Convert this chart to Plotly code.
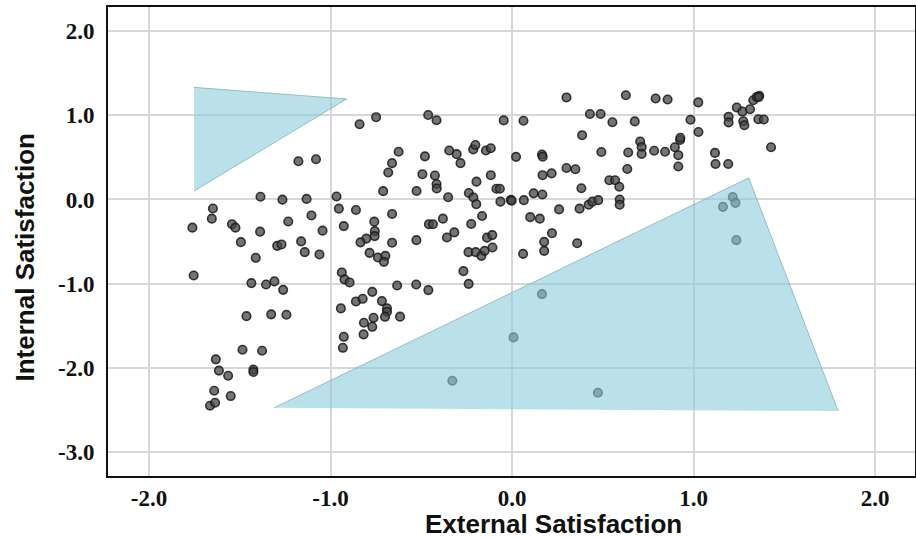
import plotly.graph_objects as go

# External (x) and Internal (y) satisfaction values
ext = [-0.840, -0.749, -1.177, -1.080, -0.625, -0.661, -0.682, -0.710, -1.386, -1.265,
       -1.132, -0.967, -1.648, -1.654, -1.543, -1.524, -1.761, -1.388, -1.233, -1.105,
       -0.954, -0.860, -1.044, -0.927, -0.759, -0.756, -0.757, -0.803, -0.835, -0.661,
       -1.494, -1.412, -1.294, -1.270, -1.162, -1.142, -1.061, -0.661, -0.785, -0.739,
       -0.698, -0.706, -1.754, -1.436, -1.355, -1.309, -1.261, -0.938, -0.923, -0.895,
       -0.633, -1.463, -1.327, -1.243, -0.943, -0.860, -0.823, -0.770, -0.717, -0.689,
       -0.689, -0.700, -0.617, -0.816, -0.763, -0.770, -0.818, -0.927, -0.932, -1.485,
       -1.377, -1.632, -1.615, -1.564, -1.425, -1.425, -1.641, -1.550, -1.664, -1.636,
       -0.527, -0.458, -0.528, -0.461,
       0.300, 0.627, 0.791, 0.857, -0.462, -0.416, -0.046, 0.063, 0.429, 0.488,
       0.553, 0.676, 0.386, -0.480, -0.526, -0.494, -0.425, -0.416, -0.415, -0.346,
       -0.305, -0.284, -0.352, -0.214, -0.202, -0.144, -0.117, -0.196, -0.117, -0.238,
       -0.213, -0.197, -0.086, -0.067, -0.064, -0.007, -0.002, 0.065, 0.022, 0.165,
       0.169, 0.168, 0.218, 0.119, 0.167, 0.300, 0.349, 0.382, 0.259, 0.372,
       0.422, 0.443, 0.475, 0.492, 0.536, 0.568, 0.591, 0.593, 0.593, 0.635,
       0.640, 0.706, 0.714, 0.714, 0.783, 0.843, 0.897, 0.926, 0.927, 0.916,
       0.916, -0.436, -0.381, -0.318, -0.359, -0.225, -0.165, -0.138, -0.109, 0.100,
       0.153, 0.220, -0.240, -0.200, -0.169, -0.151, -0.108, -0.268, -0.239, 0.061,
       0.177, 0.177, 0.359,
       1.026, 0.983, 1.027, 1.118, 1.121, 1.191, 1.193, 1.193, 1.238, 1.269,
       1.311, 1.274, 1.280, 1.329, 1.348, 1.362, 1.357, 1.387, 1.427, 1.358,
       0.165, 0.008, -0.329, 0.473, 1.162, 1.216, 1.231, 1.236]
inn = [0.895, 0.979, 0.455, 0.479, 0.568, 0.432, 0.321, 0.099, 0.033, -0.002,
       0.007, 0.036, -0.107, -0.228, -0.294, -0.335, -0.335, -0.383, -0.262, -0.190,
       -0.109, -0.125, -0.371, -0.317, -0.264, -0.377, -0.436, -0.466, -0.510, -0.172,
       -0.508, -0.694, -0.552, -0.535, -0.499, -0.627, -0.654, -0.514, -0.635, -0.690,
       -0.671, -0.742, -0.904, -0.995, -1.011, -0.975, -1.075, -0.868, -0.951, -0.987,
       -1.023, -1.388, -1.367, -1.372, -1.296, -1.213, -1.182, -1.099, -1.209, -1.296,
       -1.336, -1.396, -1.394, -1.467, -1.408, -1.515, -1.605, -1.634, -1.765, -1.788,
       -1.800, -1.902, -2.036, -2.097, -2.024, -2.053, -2.276, -2.339, -2.454, -2.419,
       -0.484, -0.294, -1.011, -1.078,
       1.214, 1.240, 1.201, 1.189, 1.005, 0.943, 0.941, 0.937, 1.017, 1.017,
       0.919, 0.929, 0.765, 0.513, 0.101, 0.301, 0.285, 0.184, 0.131, 0.583,
       0.539, 0.432, 0.027, 0.596, 0.648, 0.583, 0.610, 0.212, 0.289, 0.077,
       0.024, -0.056, 0.128, 0.128, -0.026, -0.005, -0.014, -0.008, 0.507, 0.535,
       0.509, 0.289, 0.310, 0.073, 0.059, 0.375, 0.360, 0.134, -0.118, -0.109,
       -0.062, -0.026, -0.008, 0.565, 0.229, 0.229, 0.152, 0.000, -0.062, 0.363,
       0.559, 0.690, 0.625, 0.542, 0.580, 0.568, 0.622, 0.707, 0.735, 0.527,
       0.392, -0.294, -0.228, -0.391, -0.452, -0.291, -0.196, -0.454, -0.424, -0.210,
       -0.228, -0.401, -0.627, -0.627, -0.671, -0.611, -0.571, -0.853, -1.004, -0.647,
       -0.504, -0.611, -0.520,
       1.155, 0.949, 0.803, 0.554, 0.422, 0.422, 0.985, 0.917, 1.094, 1.046,
       1.074, 0.931, 0.883, 1.181, 1.220, 1.234, 0.955, 0.951, 0.622, 1.218,
       -1.126, -1.641, -2.157, -2.300, -0.088, 0.030, -0.040, -0.484]

# Highlighted regions (triangle vertices)
tri1_x = [-1.753, -0.911, -1.751]
tri1_y = [1.334, 1.196, 0.102]
tri2_x = [-1.311, 1.304, 1.797]
tri2_y = [-2.478, 0.257, -2.518]

tick_vals = [-3.0, -2.0, -1.0, 0.0, 1.0, 2.0]
tick_text = ["-3.0", "-2.0", "-1.0", "0.0", "1.0", "2.0"]
x_title = "External Satisfaction"
y_title = "Internal Satisfaction"

fig = go.Figure()
fig.add_trace(go.Scatter(
    x=ext, y=inn, mode="markers",
    marker=dict(size=8.5, color="rgba(70,70,70,0.75)",
                line=dict(color="rgba(25,25,25,0.85)", width=1.6)),
    showlegend=False, hoverinfo="x+y"))
for tx, ty in [(tri1_x, tri1_y), (tri2_x, tri2_y)]:
    fig.add_trace(go.Scatter(
        x=tx, y=ty, mode="lines", fill="toself",
        fillcolor="rgba(140,205,220,0.6)",
        line=dict(color="rgba(120,170,180,0.7)", width=1),
        showlegend=False, hoverinfo="skip"))

tickfont = dict(family="Liberation Serif", size=23, color="#111", weight="bold")
titlefont = dict(family="Liberation Sans", size=26, color="#111", weight="bold")

fig.update_layout(
    width=916, height=538,
    margin=dict(l=108, r=1, t=7, b=62),
    paper_bgcolor="white", plot_bgcolor="white",
    xaxis=dict(range=[-2.226, 2.22], tickvals=tick_vals, ticktext=tick_text,
               showgrid=True, gridcolor="#d8d8d8", gridwidth=1.5, zeroline=False,
               showline=True, linecolor="#111", linewidth=2, mirror=True,
               ticks="outside", ticklen=0, tickcolor="rgba(0,0,0,0)",
               tickfont=tickfont, automargin=False),
    yaxis=dict(range=[-3.29, 2.29], tickvals=tick_vals, ticktext=tick_text,
               showgrid=True, gridcolor="#d8d8d8", gridwidth=1.5, zeroline=False,
               showline=True, linecolor="#111", linewidth=2, mirror=True,
               ticks="outside", ticklen=7, tickcolor="rgba(0,0,0,0)",
               tickfont=tickfont, automargin=False),
    annotations=[
        dict(text=x_title, xref="paper", yref="paper", x=0.5, y=0,
             xanchor="center", yanchor="top", xshift=42, yshift=-31,
             showarrow=False, font=titlefont),
        dict(text=y_title, xref="paper", yref="paper", x=0, y=0.5,
             xanchor="center", yanchor="middle", xshift=-84, yshift=-16,
             textangle=-90, showarrow=False, font=titlefont),
    ],
)

fig.write_html("out.html", config={"displayModeBar": False},
               post_script="document.body.style.margin='0';document.body.style.padding='0';")
